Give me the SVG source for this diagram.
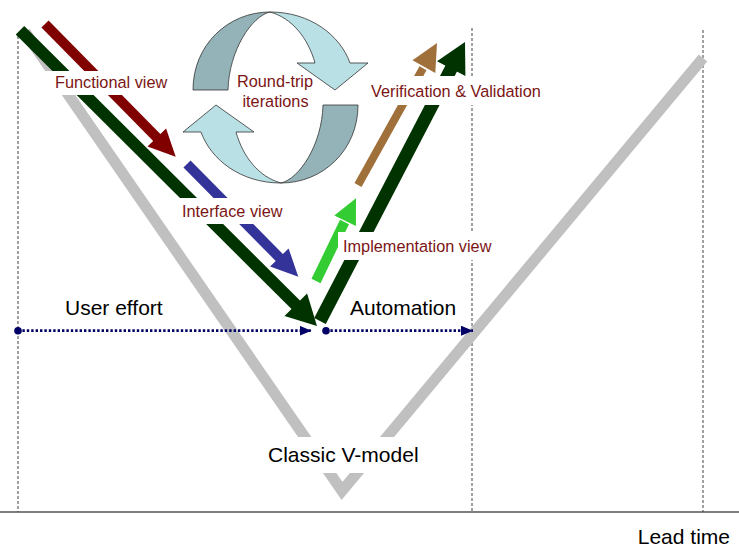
<svg xmlns="http://www.w3.org/2000/svg" width="739" height="548" viewBox="0 0 739 548">
<style>
.lbl{font-family:"Liberation Sans",Arial,sans-serif;font-size:16.3px;fill:#7b1515}
.blk{font-family:"Liberation Sans",Arial,sans-serif;font-size:21px;fill:#000}
.vdash{stroke:#444;stroke-width:1;stroke-dasharray:3,2;fill:none}
.dot{stroke:#000066;stroke-width:2.8;stroke-dasharray:2.4,2;fill:none}
.cyc{stroke:#333;stroke-width:0.8;stroke-linejoin:round}
.dark{fill:#94b3b8}
.light{fill:#b9e0e5}
.box{fill:#fff}
</style>
<defs>
<marker id="navyArrow" viewBox="0 0 12 10" refX="12" refY="5" markerWidth="12" markerHeight="10" markerUnits="userSpaceOnUse" orient="auto">
<path d="M0,0 L12,5 L0,10 Z" fill="#000066"/>
</marker>
</defs>
<rect width="739" height="548" fill="#fff"/>

<g id="axes">
<line x1="0" y1="512" x2="739" y2="512" stroke="#555" stroke-width="1.5"/>
<line class="vdash" x1="18" y1="36" x2="18" y2="512"/>
<line class="vdash" x1="472" y1="28" x2="472" y2="512"/>
<line class="vdash" x1="703" y1="30" x2="703" y2="512"/>
</g>

<g id="classic-v">
<polyline points="25,32 342,491 703,58" fill="none" stroke="#c0c0c0" stroke-width="11" stroke-linejoin="miter"/>
</g>

<g id="arrows">
<g id="functional-arrow">
<line x1="45" y1="24" x2="158" y2="138.8" stroke="#800000" stroke-width="10"/>
<polygon points="175.7,156.7 166.1,128.4 147.5,146.6" fill="#800000"/>
</g>
<g id="interface-arrow">
<line x1="187" y1="164" x2="281" y2="259.2" stroke="#333399" stroke-width="10"/>
<polygon points="298.3,276.7 288.6,248.4 270.1,266.6" fill="#333399"/>
</g>
<g id="implementation-arrow">
<line x1="316" y1="281" x2="344.5" y2="222" stroke="#33cc33" stroke-width="10"/>
<polygon points="356,198.3 355.9,226 334.3,215.6" fill="#33cc33"/>
</g>
<g id="verification-arrow">
<line x1="358" y1="185" x2="423" y2="68.2" stroke="#a0703a" stroke-width="8"/>
<polygon points="437,43 435.3,72.9 412.5,60.3" fill="#a0703a"/>
</g>
<g id="main-down">
<line x1="20" y1="30.3" x2="297.5" y2="306.5" stroke="#003300" stroke-width="12"/>
<polygon points="317,326 307.1,293.5 284.5,316.1" fill="#003300"/>
</g>
<g id="main-up">
<line x1="320" y1="321" x2="452" y2="67" stroke="#003300" stroke-width="13"/>
<polygon points="465,42 465.4,76 437,61.2" fill="#003300"/>
</g>
</g>

<g id="connectors">
<circle cx="18" cy="330.7" r="3.8" fill="#000066"/>
<line class="dot" x1="18" y1="330.7" x2="311.5" y2="330.7" marker-end="url(#navyArrow)"/>
<circle cx="326" cy="330.7" r="3.8" fill="#000066"/>
<line class="dot" x1="326" y1="330.7" x2="473" y2="330.7" marker-end="url(#navyArrow)"/>
</g>

<g id="label-boxes">
<rect class="box" x="45" y="71" width="130" height="24"/>
<rect class="box" x="176" y="198" width="114" height="26"/>
<rect class="box" x="338" y="232" width="158" height="28"/>
<rect class="box" x="365" y="76" width="184" height="29"/>
<rect class="box" x="262" y="437" width="163" height="36"/>
</g>

<g id="cycle">
<g id="cycle-top">
<path class="cyc dark" d="M193,90 C193,45 228,12 270,12 C252,16 229,50 228,90 Z"/>
<path class="cyc light" d="M270,12 C310,12 340,35 350,63 L368,63 L335,90 L297,63 L315,63 C308,38 292,18 270,12 Z"/>
</g>
<g id="cycle-bottom" transform="rotate(180 275.5 97.5)">
<path class="cyc dark" d="M193,90 C193,45 228,12 270,12 C252,16 229,50 228,90 Z"/>
<path class="cyc light" d="M270,12 C310,12 340,35 350,63 L368,63 L335,90 L297,63 L315,63 C308,38 292,18 270,12 Z"/>
</g>
</g>

<g id="labels">
<text class="lbl" x="55" y="88">Functional view</text>
<text class="lbl" x="275" y="87" text-anchor="middle">Round-trip</text>
<text class="lbl" x="275.5" y="107" text-anchor="middle">iterations</text>
<text class="lbl" x="182" y="216.5">Interface view</text>
<text class="lbl" x="343" y="251.5">Implementation view</text>
<text class="lbl" x="371" y="97">Verification &amp; Validation</text>
<text class="blk" x="65" y="315">User effort</text>
<text class="blk" x="350" y="315">Automation</text>
<text class="blk" x="268" y="462">Classic V-model</text>
<text class="blk" x="730" y="544" text-anchor="end">Lead time</text>
</g>
</svg>
